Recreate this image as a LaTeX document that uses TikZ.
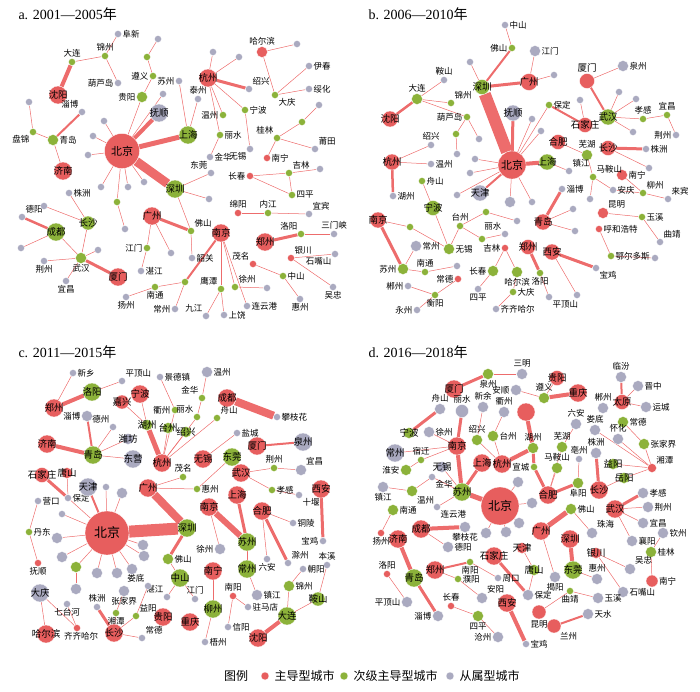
\documentclass[tikz,border=0pt]{standalone}
\usepackage{fontspec}
\setmainfont{Liberation Serif}
\newfontfamily\cjk{Noto Sans CJK SC}
\usepackage{tikz}
\usetikzlibrary{backgrounds}
\definecolor{mainred}{RGB}{231,94,94}
\definecolor{subgreen}{RGB}{140,178,58}
\definecolor{depgray}{RGB}{170,170,192}
\definecolor{linkred}{RGB}{237,108,108}
\newcommand\lblf{\cjk\fontsize{8.5}{9}\selectfont}
\newcommand\cityf{\cjk\fontsize{9.5}{10}\selectfont}
\newcommand\bjf{\cjk\fontsize{11}{12}\selectfont}
\newcommand\ov[1]{\makebox[0pt]{#1}}

\begin{document}
\begin{tikzpicture}[x=1pt,y=-1pt,
	every label/.style={font=\lblf,inner sep=0.8pt},
	city/.style={circle,inner sep=0pt,draw=white,line width=0.3pt,font=\cityf,minimum size=7pt},
	mc/.style={city,fill=mainred},
	sc/.style={city,fill=subgreen},
	dc/.style={city,fill=depgray},
	ms/.style={minimum size=11pt},
	md/.style={minimum size=18pt},
	bj/.style={minimum size=#1,font=\bjf},
	lk/.style={draw=linkred,line width=#1},
	lk/.default=0.5pt,
	ttl/.style={anchor=west,font=\fontsize{14}{14}\selectfont},
	legtext/.style={anchor=west,font=\cjk\fontsize{12}{12}\selectfont}
	]
	\useasboundingbox (0,0) rectangle (700,691);
	
	% panel a: the cities
	\node[ttl] (ta) at (15,14) {a. 2001—2005{\cjk 年}};
	\node[dc,label=right:阜新] (aFX) at (118,34) {};
	\node[sc,label=above:锦州] (aJZ) at (105,56) {};
	\node[sc,label=above:大连] (aDL) at (72,62) {};
	\node[mc,md] (aSY) at (58,95) {\ov{沈阳}};
	\node[dc,label=left:葫芦岛] (aHLD) at (118,83) {};
	\node[dc,label=above left:淄博] (aZB) at (82,112) {};
	\node[dc] (a1) at (29,102) {};
	\node[sc] (a2) at (147,57) {};
	\node[dc] (a3) at (158,39) {};
	\node[sc,label=left:遵义] (aZY) at (153,76) {};
	\node[sc,ms,label=left:贵阳] (aGY) at (142,97) {};
	\node[dc,label=left:苏州] (aSZ) at (179,81) {};
	\node[dc] (a4) at (163,94) {};
	\node[dc,label=above:泰州] (aTZ) at (198,99) {};
	\node[mc,md] (aHZ) at (208,78) {\ov{杭州}};
	\node[dc] (a5) at (213,52) {};
	\node[dc] (a6) at (239,57) {};
	\node[dc,label=above right:绍兴] (aSX) at (249,89) {};
	\node[sc,label=right:宁波] (aNB) at (245,110) {};
	\node[mc,ms,label=above:哈尔滨] (aHEB) at (262,52) {};
	\node[dc] (a7) at (297,44) {};
	\node[dc,label=right:伊春] (aYC) at (309,66) {};
	\node[sc,label=below right:大庆] (aDQ) at (275,95) {};
	\node[dc,label=right:绥化] (aSHH) at (309,89) {};
	\node[dc] (a8) at (319,105) {};
	\node[dc,md] (aFS) at (159,113) {\ov{抚顺}};
	\node[sc,md] (aSH) at (188,135) {\ov{上海}};
	\node[mc,bj=35pt] (aBJ) at (122,151) {北京};
	\node[sc,md] (aSZN) at (175,189) {\ov{深圳}};
	\foreach \n/\x/\y in {9/104/121,10/93/136,11/88/155,12/101/187,13/128/187,14/144/182}
	\node[dc] (a\n) at (\x,\y) {};
	\node[sc] (a15) at (117,202) {};
	\node[dc] (a16) at (125,229) {};
	\node[sc,label=left:温州] (aWZ) at (223,115) {};
	\node[sc,label=right:丽水] (aLS) at (220,135) {};
	\node[dc,label=right:金华] (aJH) at (210,157) {};
	\node[dc,label=below left:无锡] (aWX) at (250,149) {};
	\node[sc,label=above left:桂林] (aGL) at (277,138) {};
	\node[sc] (a17) at (302,122) {};
	\node[dc,label=above right:莆田] (aPT) at (315,149) {};
	\node[mc,label=right:南宁] (aNN) at (267,158) {};
	\node[dc,label=above left:东莞] (aDG) at (211,173) {};
	\node[mc,label=left:长春] (aCC) at (250,176) {};
	\node[sc,label=above right:吉林] (aJL) at (289,173) {};
	\node[dc] (a18) at (320,169) {};
	\node[sc,label=right:四平] (aSP) at (292,195) {};
	\node[dc] (a25) at (209,199) {};
	\node[sc,ms,label=right:青岛] (aQD) at (53,140) {};
	\node[sc,label=below left:盘锦] (aPJ) at (33,132) {};
	\node[mc,md] (aJN) at (63,171) {\ov{济南}};
	\node[dc,label=right:株洲] (aZZ) at (69,193) {};
	\node[mc,label=above:绵阳] (aMY) at (238,213) {};
	\node[sc,label=above:内江] (aNJ) at (268,213) {};
	\node[dc,label=above right:宜宾] (aYB) at (309,214) {};
	\node[mc,md] (aNJG) at (221,233) {\ov{南京}};
	\node[sc,label=above right:佛山] (aFSH) at (191,231) {};
	\node[mc,md] (aGZ) at (152,216) {\ov{广州}};
	\node[dc,label=right:韶关] (aSG) at (192,258) {};
	\node[sc,label=left:江门] (aJM) at (147,248) {};
	\node[dc,label=right:湛江] (aZJ) at (141,271) {};
	\node[dc] (a19) at (171,253) {};
	\node[mc,md] (aZZH) at (265,242) {\ov{郑州}};
	\node[sc,label=above left:洛阳] (aLY) at (301,234) {};
	\node[dc,label=above:三门峡] (aSMX) at (334,234) {};
	\node[mc,label=above right:银川] (aYCH) at (291,258) {};
	\node[dc,label=below left:石嘴山] (aSZS) at (335,254) {};
	\node[dc,label=below:吴忠] (aWZH) at (333,287) {};
	\node[mc,label=above left:茂名] (aMM) at (253,264) {};
	\node[sc,label=right:中山] (aZS) at (283,276) {};
	\node[dc,label=below:惠州] (aHZH) at (300,299) {};
	\node[sc,label=above right:徐州] (aXZ) at (235,287) {};
	\node[dc] (a20) at (267,288) {};
	\node[dc,label=right:连云港] (aLYG) at (247,306) {};
	\node[sc,label=above left:鹰潭] (aYT) at (221,289) {};
	\node[dc,label=above left:九江] (aJJ) at (206,316) {};
	\node[dc,label=right:上饶] (aSR) at (224,315) {};
	\node[sc] (a21) at (185,282) {};
	\node[sc,label=below:南通] (aNT) at (155,287) {};
	\node[dc,label=below:扬州] (aYZ) at (126,297) {};
	\node[dc,label=left:常州] (aCZ) at (175,309) {};
	\node[sc,md] (aCD) at (56,232) {\ov{成都}};
	\node[dc,label=above right:德阳] (aDY) at (22,217) {};
	\node[dc] (a22) at (21,248) {};
	\node[sc,minimum size=14pt] (aCS) at (88,223) {\ov{长沙}};
	\node[sc,ms,label=below:武汉] (aWH) at (81,258) {};
	\node[dc] (a23) at (98,250) {};
	\node[dc,label=below:荆州] (aJZH) at (44,261) {};
	\node[dc,label=below:宜昌] (aYCG) at (66,281) {};
	\node[mc,md] (aXM) at (118,277) {\ov{厦门}};
	\node[dc] (a24) at (44,206) {};
	
	% panel a: the links
	\begin{scope}[on background layer]
	\draw[lk=4pt] (aSY) -- (aDL);
	\draw[lk=4pt] (aBJ) -- (aFS);
	\draw[lk=5pt] (aBJ) -- (aSH);
	\draw[lk=9pt] (aBJ) -- (aSZN);
	\draw[lk=3pt] (aHZ) -- (aSX);
	\draw[lk=2pt] (aQD) -- (aZB);
	\draw[lk=3pt] (aGZ) -- (aFSH);
	\draw[lk=3pt] (aZZH) -- (aLY);
	\draw[lk=2pt] (aNJG) -- (a21);
	\draw[lk=2.5pt] (aCD) -- (aDY);
	\draw[lk=3pt] (aWH) -- (aXM);
	\foreach \a/\b in {aDL/aJZ,aJZ/aFX,aJZ/aHLD,aZY/a2,a2/a3,aZY/aGY,aBJ/aGY,aBJ/a4,
		aSH/aSZ,aSH/aTZ,aHZ/a5,aHZ/a6,aHZ/aWZ,aHZ/aLS,aLS/aJH,aHZ/aNB,aNB/aWX,
		aHEB/a7,aHEB/aDQ,aDQ/aYC,aDQ/aSHH,aBJ/a9,aBJ/a10,aBJ/a11,aBJ/a12,aBJ/a13,
		aBJ/a14,aBJ/a15,a15/a16,aGL/aNN,aGL/a17,a17/a8,aGL/aPT,aSZN/aDG,aSZN/a25,
		aSZN/aFSH,aFSH/aSG,aGZ/aJM,aJM/aZJ,aGZ/a19,aCC/aJL,aJL/a18,aCC/aSP,aJL/aSP,
		aQD/aPJ,aPJ/a1,aQD/aJN,aMY/aNJ,aNJ/aYB,aLY/aSMX,aYCH/aSZS,aYCH/aWZH,
		aMM/aZS,aZS/aHZH,a21/aNT,aNT/aYZ,a21/aCZ,aNJG/aYT,aYT/aJJ,aYT/aSR,
		aNJG/aXZ,aXZ/a20,aNJG/aLYG,aCD/a22,aCD/aWH,aCS/aWH,aCS/aZZ,aCS/a24,
		aWH/aJZH,aWH/aYCG,aWH/a23}
	\draw[lk] (\a) -- (\b);
	\end{scope}
	
	% panel b: the cities
	\node[ttl] (tb) at (365,14) {b. 2006—2010{\cjk 年}};
	\node[dc,label=right:中山] (bZS) at (505,25) {};
	\node[sc,label=left:佛山] (bFS) at (512,48) {};
	\node[dc,ms,label=right:江门] (bJM) at (535,51) {};
	\node[sc,minimum size=15pt] (bSZ) at (482,87) {\ov{深圳}};
	\node[mc,minimum size=17pt] (bGZ) at (529,82) {\ov{广州}};
	\node[dc] (b1) at (470,62) {};
	\node[dc] (b2) at (554,75) {};
	\node[mc,minimum size=15pt,label={[font=\cityf]above:厦门}] (bXM) at (587,81) {};
	\node[dc,ms,label=right:泉州] (bQZ) at (623,66) {};
	\node[dc,label=above:鞍山] (bAS) at (444,80) {};
	\node[sc,ms,label=above:大连] (bDL) at (417,99) {};
	\node[sc,label=above right:锦州] (bJZ) at (451,103) {};
	\node[sc,label=right:保定] (bBD) at (549,105) {};
	\node[dc] (b3) at (580,100) {};
	\node[dc] (b4) at (619,92) {};
	\node[dc] (b5) at (636,99) {};
	\node[mc,minimum size=16pt] (bSY) at (390,119) {\ov{沈阳}};
	\node[dc,minimum size=16pt] (bFSH) at (513,113) {\ov{抚顺}};
	\node[dc] (b6) at (532,119) {};
	\node[dc] (b7) at (541,131) {};
	\node[mc,minimum size=15pt] (bSJZ) at (585,125) {\ov{石家庄}};
	\node[sc,minimum size=16pt] (bWH) at (608,117) {\ov{武汉}};
	\node[sc,label=above:孝感] (bXG) at (643,119) {};
	\node[sc,label=above:宜昌] (bYC) at (667,115) {};
	\node[dc,label=left:荆州] (bJZH) at (676,135) {};
	\node[dc] (b8) at (633,132) {};
	\node[mc,minimum size=15pt] (bHF) at (558,142) {\ov{合肥}};
	\node[sc,ms,label=above:芜湖] (bWHU) at (587,155) {};
	\node[mc,minimum size=15pt] (bCS) at (608,148) {\ov{长沙}};
	\node[dc,label=right:株洲] (bZZ) at (646,149) {};
	\node[dc] (b9) at (649,168) {};
	\node[mc,ms,label=right:南宁] (bNN) at (622,175) {};
	\node[sc,label=above right:马鞍山] (bMAS) at (593,177) {};
	\node[dc,label=right:安庆] (bAQ) at (613,190) {};
	\node[sc,label=above right:柳州] (bLZ) at (643,193) {};
	\node[dc,label=above right:来宾] (bLB) at (668,199) {};
	\node[mc,bj=28pt] (bBJ) at (512,165) {北京};
	\node[sc,minimum size=16pt] (bSH) at (547,162) {\ov{上海}};
	\node[dc,label=above right:镇江] (bZJ) at (569,171) {};
	\node[dc] (b10) at (475,159) {};
	\node[dc] (b11) at (470,173) {};
	\node[dc,minimum size=16pt] (bTJ) at (480,193) {\ov{天津}};
	\node[dc] (b12) at (457,195) {};
	\node[dc,ms] (b13) at (510,202) {};
	\node[dc] (b14) at (532,202) {};
	\node[dc,label=right:淄博] (bZB) at (562,189) {};
	\node[dc] (b15) at (590,199) {};
	\node[dc,label=above:绍兴] (bSX) at (431,145) {};
	\node[dc,label=right:温州] (bWZ) at (431,164) {};
	\node[mc,minimum size=16pt] (bHZ) at (392,162) {\ov{杭州}};
	\node[dc,label=right:湖州] (bHUZ) at (393,196) {};
	\node[sc,label=right:舟山] (bZSH) at (422,181) {};
	\node[sc,label=left:葫芦岛] (bHLD) at (467,117) {};
	\node[dc] (b16) at (479,139) {};
	\node[sc] (b17) at (456,134) {};
	\node[dc] (b18) at (457,154) {};
	\node[sc,minimum size=15pt] (bNB) at (433,208) {\ov{宁波}};
	\node[mc,minimum size=16pt] (bNJ) at (378,220) {\ov{南京}};
	\node[sc,label=above:台州] (bTZ) at (460,226) {};
	\node[sc] (b19) at (486,212) {};
	\node[dc] (b20) at (517,221) {};
	\node[sc] (b21) at (410,227) {};
	\node[dc,ms,label=right:常州] (bCZ) at (416,246) {};
	\node[sc,ms,label=right:无锡] (bWX) at (449,249) {};
	\node[dc,label=above left:丽水] (bLS) at (505,234) {};
	\node[sc] (b22) at (482,239) {};
	\node[sc,ms,label=left:苏州] (bSUZ) at (403,269) {};
	\node[sc,label=above:南通] (bNT) at (425,272) {};
	\node[dc] (b23) at (457,266) {};
	\node[mc,label=left:常德] (bCD) at (458,279) {};
	\node[dc,label=left:郴州] (bCHZ) at (408,286) {};
	\node[sc,label=below:衡阳] (bHY) at (435,295) {};
	\node[dc,label=left:永州] (bYZ) at (417,310) {};
	\node[mc,label=left:吉林] (bJL) at (505,248) {};
	\node[sc,ms,label=left:长春] (bCC) at (493,271) {};
	\node[dc,label=below:四平] (bSP) at (478,289) {};
	\node[sc,ms,label=below:哈尔滨] (bHEB) at (517,272) {};
	\node[sc,label=right:大庆] (bDQ) at (513,292) {};
	\node[dc,label=right:齐齐哈尔] (bQQHE) at (496,309) {};
	\node[mc,minimum size=15pt] (bZZH) at (528,247) {\ov{郑州}};
	\node[sc,label=below:洛阳] (bLY) at (540,273) {};
	\node[dc,label=below right:平顶山] (bPDS) at (549,297) {};
	\node[mc,minimum size=16pt] (bXA) at (552,252) {\ov{西安}};
	\node[dc,label=below right:宝鸡] (bBJI) at (596,268) {};
	\node[dc] (b24) at (577,295) {};
	\node[mc,minimum size=16pt] (bQD) at (543,222) {\ov{青岛}};
	\node[dc] (b25) at (573,209) {};
	\node[dc] (b26) at (575,231) {};
	\node[mc,ms,label=above right:昆明] (bKM) at (603,213) {};
	\node[sc,label=right:玉溪] (bYX) at (642,217) {};
	\node[dc,label=above right:曲靖] (bQJ) at (660,242) {};
	\node[mc,label=right:呼和浩特] (bHHHT) at (599,229) {};
	\node[sc,label=right:鄂尔多斯] (bEEDS) at (611,256) {};
	\node[dc] (b27) at (655,258) {};
	
	% panel b: the links
	\begin{scope}[on background layer]
	\draw[lk=3pt] (bSZ) -- (bGZ);
	\draw[lk=12pt] (bSZ) -- (bBJ);
	\draw[lk=2pt] (bSZ) -- (bFS);
	\draw[lk=2pt] (bXM) -- (bWH);
	\draw[lk=2.5pt] (bDL) -- (bSY);
	\draw[lk=3pt] (bBJ) -- (bFSH);
	\draw[lk=4pt] (bBJ) -- (bSH);
	\draw[lk=2pt] (bBJ) -- (bTJ);
	\draw[lk=2pt] (bBD) -- (bSJZ);
	\draw[lk=3pt] (bCS) -- (bZZ);
	\draw[lk=2.5pt] (bHZ) -- (bHUZ);
	\draw[lk=3pt] (bNJ) -- (bSUZ);
	\draw[lk=3pt] (bZZH) -- (bLY);
	\draw[lk=3pt] (bXA) -- (bBJI);
	\draw[lk=3pt] (bQD) -- (bZB);
	\foreach \a/\b in {bFS/bZS,bGZ/bJM,bSZ/b1,bGZ/b2,bXM/bQZ,bAS/bDL,bDL/bJZ,bDL/bHLD,
		bHLD/b16,bHLD/b17,b17/b18,bBJ/b6,bBJ/b7,bBJ/bBD,bBJ/b10,bBJ/b11,bBJ/b12,
		bBJ/b13,bBJ/b14,bSJZ/b3,bWH/bXG,bXG/bYC,bYC/bJZH,bWH/b8,bWH/b4,bWH/b5,
		bHF/bWHU,bWHU/bMAS,bMAS/bAQ,bMAS/b15,bCS/b9,bNN/bLZ,bLZ/bLB,bLZ/bAQ,
		bSH/bZJ,bHZ/bSX,bHZ/bWZ,bZSH/bNB,bNJ/b21,b21/bWX,bSUZ/bCZ,bSUZ/bNT,
		bNT/b23,bNB/bWX,bWX/bTZ,bTZ/b19,b19/b20,bTZ/b22,b22/bLS,bCD/bHY,
		bHY/bCHZ,bHY/bYZ,bJL/bCC,bJL/bHEB,bCC/bSP,bHEB/bDQ,bDQ/bQQHE,bLY/bPDS,
		bXA/b24,bQD/b25,bQD/b26,bKM/bYX,bYX/bQJ,bHHHT/bEEDS,bEEDS/b27}
	\draw[lk] (\a) -- (\b);
	\end{scope}
	
	% panel c: the cities
	\node[ttl] (tc) at (15,352) {c. 2011—2015{\cjk 年}};
	\node[dc,label=right:新乡] (cXX) at (73,373) {};
	\node[dc,label=above right:平顶山] (cPDS) at (122,381) {};
	\node[dc,label=right:景德镇] (cJDZ) at (160,377) {};
	\node[dc,ms,label=right:温州] (cWZ) at (207,372) {};
	\node[sc,md] (cLY) at (92,392) {\ov{洛阳}};
	\node[mc,md] (cZZ) at (54,408) {\ov{郑州}};
	\node[mc,md] (cNB) at (140,394) {\ov{宁波}};
	\node[mc,minimum size=14pt] (cJX) at (122,402) {\ov{嘉兴}};
	\node[sc,label=above left:金华] (cJH) at (202,398) {};
	\node[mc,md] (cCD) at (227,398) {\ov{成都}};
	\node[sc,label=left:衢州] (cQZ) at (175,410) {};
	\node[sc,label=above left:丽水] (cLS) at (197,417) {};
	\node[sc,label=above right:舟山] (cZS) at (217,418) {};
	\node[dc,label=right:攀枝花] (cPZH) at (277,417) {};
	\node[dc,ms,label=left:淄博] (cZB) at (87,416) {};
	\node[dc,label=above left:德州] (cDZ) at (113,427) {};
	\node[sc,ms] (cHUZ) at (147,425) {\ov{湖州}};
	\node[sc,ms] (cTZ) at (168,428) {\ov{台州}};
	\node[sc,ms] (cSX) at (186,432) {\ov{绍兴}};
	\node[dc,ms] (cWF) at (128,439) {\ov{潍坊}};
	\node[mc,md] (cJN) at (47,444) {\ov{济南}};
	\node[sc,md] (cQD) at (93,455) {\ov{青岛}};
	\node[dc,md] (cDY) at (133,459) {\ov{东营}};
	\node[mc,md] (cHZ) at (162,463) {\ov{杭州}};
	\node[mc,md] (cWX) at (203,459) {\ov{无锡}};
	\node[sc,md] (cDG) at (232,457) {\ov{东莞}};
	\node[dc,label=right:盐城] (cYCH) at (237,433) {};
	\node[mc,md] (cXM) at (257,446) {\ov{厦门}};
	\node[dc,md] (cQUZ) at (303,442) {\ov{泉州}};
	\node[sc,label=above:荆州] (cJZH) at (274,468) {};
	\node[dc,ms,label=above right:宜昌] (cYC) at (301,470) {};
	\node[mc,md] (cWH) at (241,473) {\ov{武汉}};
	\node[sc,label=right:孝感] (cXG) at (272,490) {};
	\node[dc,label=below right:十堰] (cSY) at (299,495) {};
	\node[mc,md] (cXA) at (321,489) {\ov{西安}};
	\node[sc,label=above:茂名] (cMM) at (183,477) {};
	\node[mc,md] (cGZ) at (148,488) {\ov{广州}};
	\node[sc,label=right:惠州] (cHZH) at (197,489) {};
	\node[mc,md] (cSH) at (237,495) {\ov{上海}};
	\node[mc,md] (cNJ) at (209,507) {\ov{南京}};
	\node[mc,md] (cHF) at (262,511) {\ov{合肥}};
	\node[mc,minimum size=15pt] (cSJZ) at (42,475) {\ov{石家庄}};
	\node[mc,ms] (cTS) at (67,473) {\ov{唐山}};
	\node[dc,label=right:保定] (cBD) at (68,498) {};
	\node[dc,md] (cTJ) at (88,487) {\ov{天津}};
	\node[dc] (c1) at (106,487) {};
	\node[dc,ms] (c2) at (122,493) {};
	\node[dc,label=right:营口] (cYK) at (38,501) {};
	\node[dc] (c3) at (62,514) {};
	\node[mc,bj=44pt,font=\cjk\fontsize{13}{13}\selectfont] (cBJ) at (107,533) {北京};
	\node[sc,md] (cSZ) at (187,528) {\ov{深圳}};
	\node[sc,md] (cSUZ) at (247,542) {\ov{苏州}};
	\node[dc,label=right:铜陵] (cTL) at (293,523) {};
	\node[dc,label=left:宝鸡] (cBJI) at (323,541) {};
	\node[dc,ms,label=left:徐州] (cXZ) at (220,549) {};
	\node[sc,ms,label=right:佛山] (cFS) at (168,559) {};
	\node[dc,label=above right:滁州] (cCHZ) at (288,563) {};
	\node[dc,label=below:六安] (cLA) at (267,559) {};
	\node[dc,label=above:本溪] (cBX) at (327,565) {};
	\node[sc,md] (cCZ) at (247,569) {\ov{常州}};
	\node[sc,md] (cZSH) at (180,578) {\ov{中山}};
	\node[mc,md] (cNN) at (213,571) {\ov{南宁}};
	\node[dc,label=right:朝阳] (cCY) at (303,569) {};
	\node[sc,ms,label=right:锦州] (cJZ) at (289,586) {};
	\node[sc,minimum size=14pt] (cAS) at (318,599) {\ov{鞍山}};
	\node[sc,md] (cDL) at (287,616) {\ov{大连}};
	\node[dc,label=above left:湛江] (cZJ) at (167,597) {};
	\node[dc,label=above:江门] (cJM) at (195,599) {};
	\node[mc,label=above:南阳] (cNY) at (233,596) {};
	\node[dc,ms,label=right:镇江] (cZJG) at (257,595) {};
	\node[dc,label=right:驻马店] (cZMD) at (248,607) {};
	\node[dc,label=right:信阳] (cXY) at (228,627) {};
	\node[sc,md] (cLZ) at (213,609) {\ov{柳州}};
	\node[mc,md] (cGY) at (163,617) {\ov{贵阳}};
	\node[mc,md] (cCQ) at (190,622) {\ov{重庆}};
	\node[dc,label=above left:娄底] (cLD) at (148,586) {};
	\node[dc,ms,label=below:张家界] (cZJJ) at (124,591) {};
	\node[sc,label=below:湘潭] (cXT) at (116,613) {};
	\node[sc,label=above right:益阳] (cYY) at (136,616) {};
	\node[dc,label=above:株洲] (cZZH) at (97,607) {};
	\node[dc,label=above right:常德] (cCDE) at (142,638) {};
	\node[dc,md] (cDQ) at (40,593) {\ov{大庆}};
	\node[dc,label=below:七台河] (cQTH) at (67,604) {};
	\node[mc,md] (cHEB) at (46,634) {\ov{哈尔滨}};
	\node[mc,label={[xshift=4pt]below:齐齐哈尔}] (cQQHE) at (77,628) {};
	\node[sc,label=right:丹东] (cDD) at (29,532) {};
	\node[mc,label=below:抚顺] (cFSH) at (38,563) {};
	\node[sc,ms] (c4) at (76,567) {};
	\node[dc,ms] (c5) at (76,589) {};
	\foreach \n/\x/\y in {7/57/538,8/62/557,9/97/573,10/117/573,11/132/569,12/144/556,13/143/545}
	\node[dc,ms] (c\n) at (\x,\y) {};
	\node[mc,md] (cCS) at (114,633) {\ov{长沙}};
	\node[dc,label=right:梧州] (cWZH) at (205,642) {};
	\node[mc,md] (cSYG) at (258,638) {\ov{沈阳}};
	
	% panel c: the links
	\begin{scope}[on background layer]
	\draw[lk=4pt] (cZZ) -- (cLY);
	\draw[lk=5pt] (cHUZ) -- (cHZ);
	\draw[lk=8pt] (cCD) -- (cPZH);
	\draw[lk=4pt] (cQD) -- (cJN);
	\draw[lk=2pt] (cQD) -- (cZB);
	\draw[lk=2pt] (cXM) -- (cQUZ);
	\draw[lk=3pt] (cXA) -- (cBJI);
	\draw[lk=8pt] (cGZ) -- (cSZ);
	\draw[lk=12pt] (cBJ) -- (cSZ);
	\draw[lk=6pt] (cNJ) -- (cSUZ);
	\draw[lk=3pt] (cSH) -- (cSUZ);
	\draw[lk=3pt] (cHF) -- (cCHZ);
	\draw[lk=3pt] (cSZ) -- (cFS);
	\draw[lk=4pt] (cDL) -- (cSYG);
	\draw[lk=3pt] (cSJZ) -- (cBD);
	\draw[lk=2pt] (cBJ) -- (cTJ);
	\draw[lk=3pt] (cZZH) -- (cCS);
	\foreach \a/\b in {cZZ/cXX,cLY/cPDS,cNB/cHUZ,cJX/cHUZ,cJDZ/cQZ,cQZ/cHZ,cWZ/cJH,
		cJH/cLS,cLS/cHZ,cTZ/cHZ,cSX/cHZ,cZS/cHZ,cQD/cWF,cQD/cDY,cQD/cDZ,cWX/cYCH,
		cWH/cJZH,cJZH/cYC,cWH/cXG,cXG/cSY,cGZ/cMM,cGZ/cHZH,cHZH/cDG,cHF/cTL,
		cHF/cLA,cSUZ/cCZ,cCZ/cZJG,cNJ/cXZ,cFS/cZSH,cZSH/cZJ,cZSH/cJM,cNN/cLZ,
		cLZ/cWZH,cNY/cXY,cNY/cZMD,cJZ/cDL,cCY/cJZ,cAS/cDL,cBX/cAS,cTS/cBD,
		cBJ/cBD,cBJ/c1,cBJ/c2,cBJ/c3,cBJ/c7,cBJ/c8,cBJ/c9,cBJ/c10,cBJ/c11,
		cBJ/c12,cBJ/c13,cBJ/c4,c4/c5,cYK/cDD,cDD/cFSH,cDQ/cHEB,cDQ/cQQHE,
		cQTH/cQQHE,cXT/cCS,cYY/cCS,cLD/cYY,cZJJ/cXT,cCDE/cCS}
	\draw[lk] (\a) -- (\b);
	\end{scope}
	
	% panel d: the cities
	\node[ttl] (td) at (365,352) {d. 2016—2018{\cjk 年}};
	\node[dc,ms,label=above:三明] (dSM) at (522,374) {};
	\node[sc,ms,label=below:泉州] (dQZ) at (488,374) {};
	\node[mc,md] (dXM) at (454,389) {\ov{厦门}};
	\node[mc,minimum size=15pt] (dGY) at (557,378) {\ov{贵阳}};
	\node[sc,ms,label=above:遵义] (dZY) at (544,398) {};
	\node[mc,md] (dCQ) at (578,393) {\ov{重庆}};
	\node[dc,ms,label=left:安顺] (dAS) at (516,390) {};
	\node[dc,ms,label=above:临汾] (dLF) at (621,377) {};
	\node[dc,ms,label=right:晋中] (dJZ) at (638,386) {};
	\node[mc,minimum size=15pt] (dTY) at (622,402) {\ov{太原}};
	\node[dc,ms,label=right:运城] (dYC) at (646,407) {};
	\node[dc,ms,label=above:郴州] (dCZ) at (603,408) {};
	\node[dc,ms,label=above:舟山] (dZSH) at (440,409) {};
	\node[dc,minimum size=13pt,label=above:丽水] (dLS) at (462,411) {};
	\node[dc,ms,label=above:新余] (dXY) at (483,407) {};
	\node[dc,ms,label=above:衢州] (dQUZ) at (504,412) {};
	\node[mc,md] (d1) at (526,412) {};
	\node[dc,ms,label=above:六安] (dLA) at (576,424) {};
	\node[dc,ms,label=above:娄底] (dLD) at (595,430) {};
	\node[sc,ms,label=right:常德] (dCD) at (623,422) {};
	\node[dc,ms,label=above:怀化] (dHH) at (618,439) {};
	\node[sc,ms,label=right:张家界] (dZJJ) at (644,444) {};
	\node[sc,ms] (dNB) at (409,433) {\ov{宁波}};
	\node[dc,ms,label=right:徐州] (dXZ) at (429,432) {};
	\node[sc,ms,label=above:绍兴] (dSX) at (477,440) {};
	\node[sc,ms,label=right:台州] (dTZ) at (493,436) {};
	\node[sc,ms,label=above:湖州] (dHUZ) at (533,448) {};
	\node[sc,ms,label=above:芜湖] (dWHU) at (562,447) {};
	\node[mc,md] (dNJ) at (457,446) {\ov{南京}};
	\node[dc,md] (dCZZ) at (395,453) {\ov{常州}};
	\node[sc,label=above:宿迁] (dSQ) at (421,460) {};
	\node[sc,ms,label=left:淮安] (dHA) at (406,470) {};
	\node[mc,md] (dSH) at (482,463) {\ov{上海}};
	\node[mc,md] (dHZ) at (502,464) {\ov{杭州}};
	\node[sc,label=left:宣城] (dXC) at (534,467) {};
	\node[sc,ms,label=above:马鞍山] (dMAS) at (557,468) {};
	\node[dc,label=above:亳州] (dBZ) at (579,459) {};
	\node[dc,ms,label=above:株洲] (dZZ) at (596,453) {};
	\node[sc,ms] (dYY) at (613,464) {\ov{益阳}};
	\node[mc,minimum size=9pt,label=above right:湘潭] (dXT) at (652,468) {};
	\node[sc,ms] (dYUY) at (624,478) {\ov{岳阳}};
	\node[dc,ms] (dWX) at (442,467) {\ov{无锡}};
	\node[dc,label=below right:金华] (dJH) at (432,477) {};
	\node[dc,ms,label=below:镇江] (dZJ) at (383,487) {};
	\node[sc,ms,label=below right:温州] (dWZ) at (412,491) {};
	\node[sc,md] (dSUZ) at (462,492) {\ov{苏州}};
	\node[mc,bj=38pt,font=\cjk\fontsize{12}{12}\selectfont] (dBJ) at (500,506) {北京};
	\node[dc,ms] (d2) at (518,482) {};
	\node[mc,md] (dHF) at (548,495) {\ov{合肥}};
	\node[sc,ms,label=below:阜阳] (dFY) at (578,483) {};
	\node[mc,md] (dCS) at (599,490) {\ov{长沙}};
	\node[dc,label=below right:连云港] (dLYG) at (437,507) {};
	\node[sc,ms,label=right:南通] (dNT) at (393,510) {};
	\node[dc,ms] (d3) at (532,503) {};
	\node[sc,ms,label=right:佛山] (dFS) at (571,509) {};
	\node[dc,ms,label=right:孝感] (dXG) at (643,493) {};
	\node[dc,ms,label=right:荆州] (dJZH) at (648,507) {};
	\node[mc,md] (dWH) at (615,509) {\ov{武汉}};
	\node[mc,label=below:扬州] (dYZ) at (381,533) {};
	\node[mc,md] (dJN) at (398,539) {\ov{济南}};
	\node[mc,md] (dCDU) at (421,529) {\ov{成都}};
	\node[dc,ms,label=below:攀枝花] (dPZH) at (465,527) {};
	\node[dc,ms,label=right:德阳] (dDY) at (448,547) {};
	\node[dc,ms] (d4) at (486,533) {};
	\node[dc,ms] (d5) at (506,532) {};
	\node[dc,ms] (d6) at (519,523) {};
	\node[mc,md] (dGZ) at (541,531) {\ov{广州}};
	\node[dc,ms,label=above right:珠海] (dZH) at (592,533) {};
	\node[dc,ms,label=right:宜昌] (dYCH) at (643,523) {};
	\node[dc,ms,label=right:襄阳] (dXYA) at (632,541) {};
	\node[mc,md] (dSZ) at (570,539) {\ov{深圳}};
	\node[dc,ms,label=right:钦州] (dQZH) at (663,533) {};
	\node[sc,ms,label=right:桂林] (dGL) at (651,552) {};
	\node[mc,minimum size=12pt,label=right:南宁] (dNN) at (652,581) {};
	\node[mc,ms] (dYCN) at (596,553) {\ov{银川}};
	\node[dc,ms,label=above right:吴忠] (dWZH) at (630,569) {};
	\node[dc,ms,label=right:石嘴山] (dSZS) at (623,592) {};
	\node[dc,ms,label=above:惠州] (dHZH) at (597,579) {};
	\node[sc,md] (dDG) at (573,570) {\ov{东莞}};
	\node[dc,ms,label=below:揭阳] (dJY) at (555,577) {};
	\node[mc,ms] (dTJ) at (522,548) {\ov{天津}};
	\node[sc,ms] (dTS) at (534,570) {\ov{唐山}};
	\node[dc,ms,label=right:保定] (dBD) at (528,595) {};
	\node[mc,md] (dSJZ) at (494,556) {\ov{石家庄}};
	\node[mc,label=above:洛阳] (dLY) at (387,574) {};
	\node[dc,ms,label=left:平顶山] (dPDS) at (407,602) {};
	\node[sc,md] (dQD) at (414,578) {\ov{青岛}};
	\node[dc,ms,label=left:淄博] (dZB) at (438,616) {};
	\node[mc,md] (dZZH) at (435,570) {\ov{郑州}};
	\node[sc,label=below:南阳] (dNY) at (470,562) {};
	\node[sc,label=right:濮阳] (dPY) at (458,579) {};
	\node[dc,label=right:周口] (dZK) at (498,578) {};
	\node[dc,ms,label=above right:安阳] (dAY) at (482,598) {};
	\node[mc,label=above:长春] (dCC) at (451,606) {};
	\node[sc,ms,label=below:四平] (dSP) at (478,616) {};
	\node[mc,md] (dXA) at (507,603) {\ov{西安}};
	\node[dc,ms,label=left:沧州] (dCZH) at (498,637) {};
	\node[mc,minimum size=14pt,label=below:昆明] (dKM) at (539,612) {};
	\node[sc,label=below:曲靖] (dQJ) at (570,591) {};
	\node[dc,ms,label=right:玉溪] (dYX) at (598,598) {};
	\node[mc,minimum size=14pt,label=below right:兰州] (dLZ) at (554,626) {};
	\node[dc,ms,label=right:天水] (dTSH) at (588,614) {};
	\node[dc,label=right:宝鸡] (dBJI) at (526,644) {};
	
	% panel d: the links
	\begin{scope}[on background layer]
	\draw[lk=3pt] (dXM) -- (dQZ);
	\draw[lk=4pt] (dZY) -- (dCQ);
	\draw[lk=2pt] (dTY) -- (dLF);
	\draw[lk=3pt] (dZSH) -- (dNB);
	\draw[lk=3pt] (dLS) -- (dNJ);
	\draw[lk=4pt] (d1) -- (dHUZ);
	\draw[lk=4pt] (dHUZ) -- (dHZ);
	\draw[lk=3pt] (dHUZ) -- (dXC);
	\draw[lk=3pt] (dXC) -- (dHF);
	\draw[lk=4pt] (dNJ) -- (dSUZ);
	\draw[lk=3pt] (dSH) -- (dSUZ);
	\draw[lk=5pt] (dSUZ) -- (dBJ);
	\draw[lk=3pt] (dHF) -- (dFY);
	\draw[lk=3pt] (dCS) -- (dZZ);
	\draw[lk=3pt] (dWH) -- (dXG);
	\draw[lk=5pt] (dGZ) -- (dFS);
	\draw[lk=4pt] (dSZ) -- (dDG);
	\draw[lk=4pt] (dCDU) -- (dPZH);
	\draw[lk=4pt] (dJN) -- (dQD);
	\draw[lk=3pt] (dQD) -- (dZB);
	\draw[lk=2pt] (dZZH) -- (dNY);
	\draw[lk=3pt] (dSJZ) -- (dBD);
	\draw[lk=4pt] (dXA) -- (dBJI);
	\draw[lk=2pt] (dLZ) -- (dTSH);
	\foreach \a/\b in {dQZ/dSM,dZY/dGY,dZY/dAS,dTY/dJZ,dTY/dYC,dXY/dSX,dQUZ/dTZ,
		dNJ/dXZ,dNJ/dSQ,dNJ/dCZZ,dSQ/dHA,dHZ/dSX,dHZ/dTZ,dWX/dSUZ,dJH/dSUZ,dLYG/dSUZ,
		dZJ/dWZ,dWZ/dJH,dNT/dYZ,dBJ/d2,dBJ/d3,dBJ/d4,dBJ/d5,dBJ/d6,dHF/dWHU,
		dWHU/dLA,dHF/dMAS,dFY/dBZ,dCS/dYUY,dYUY/dXT,dYY/dXT,dHH/dXT,dZJJ/dXT,
		dLD/dXT,dCD/dZJJ,dWH/dJZH,dWH/dYCH,dWH/dXYA,dFS/dZH,dGZ/dJY,dDG/dHZH,
		dYCN/dWZH,dYCN/dSZS,dQZH/dGL,dGL/dNN,dCDU/dDY,dLY/dPDS,dNY/dZK,dZZH/dPY,
		dPY/dAY,dTJ/dTS,dTS/dBD,dCC/dSP,dSP/dCZH,dKM/dQJ,dQJ/dYX}
	\draw[lk] (\a) -- (\b);
	\end{scope}
	
	% the legend
	\node[font=\cjk\fontsize{12}{12}\selectfont] (lg) at (236,676) {图例};
	\node[mc,minimum size=8pt] (lgm) at (265,676) {};
	\node[legtext] (lgmt) at (271,676) {主导型城市};
	\node[sc,minimum size=8pt] (lgs) at (344,676) {};
	\node[legtext] (lgst) at (350,676) {次级主导型城市};
	\node[dc,minimum size=8pt] (lgd) at (450,676) {};
	\node[legtext] (lgdt) at (456,676) {从属型城市};
\end{tikzpicture}
\end{document}
